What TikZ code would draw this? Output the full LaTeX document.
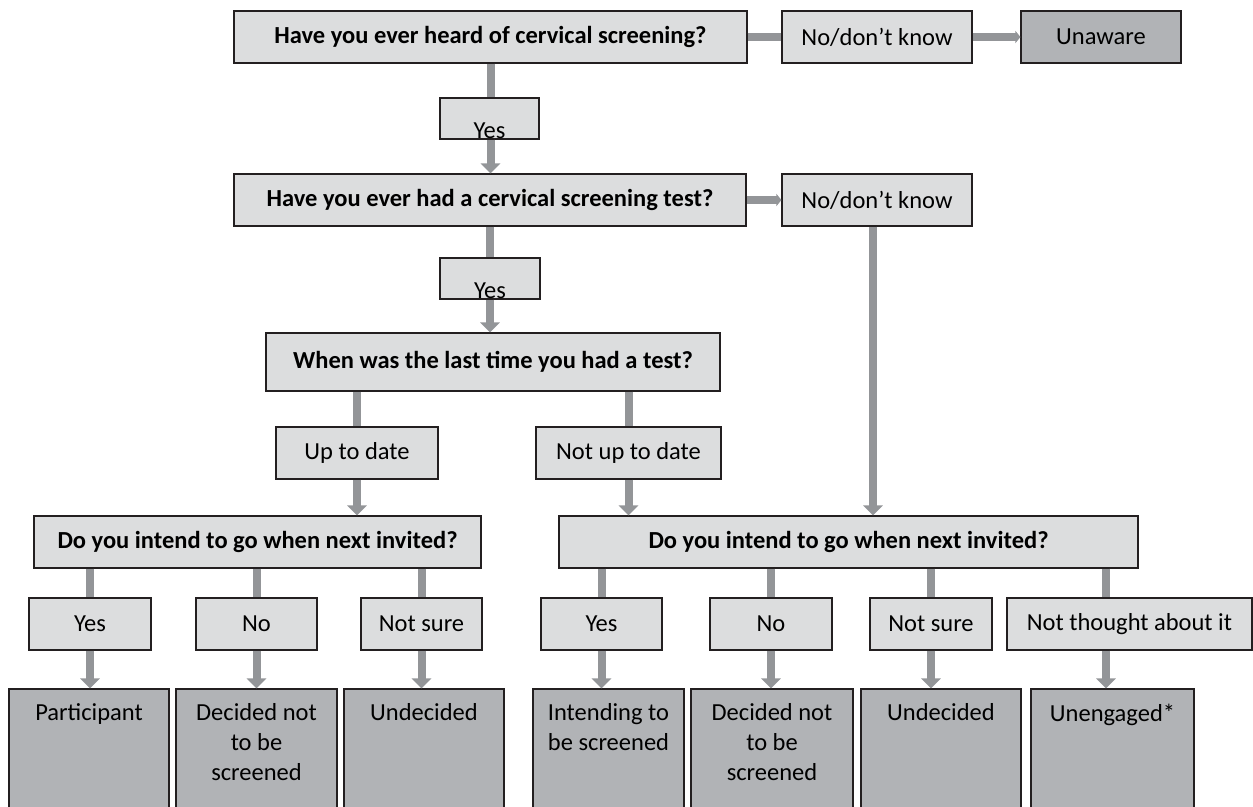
\documentclass[tikz,border=0pt]{standalone}
\usepackage{fontspec}
\setmainfont{Carlito}
\usetikzlibrary{arrows.meta,calc}
\definecolor{boxlight}{HTML}{DCDDDE}
\definecolor{boxdark}{HTML}{B1B3B6}
\definecolor{edgecol}{HTML}{231F20}
\definecolor{conngray}{HTML}{939598}
\tikzset{
  qbox/.style={draw=edgecol, line width=1.1pt, fill=boxlight, inner sep=0pt, font=\fontsize{24.5}{28}\selectfont\bfseries},
  abox/.style={draw=edgecol, line width=1.1pt, fill=boxlight, inner sep=0pt, font=\fontsize{24.5}{30}\selectfont},
  dbox/.style={draw=edgecol, line width=1.1pt, fill=boxdark, inner sep=0pt, font=\fontsize{24.5}{30}\selectfont},
  obox/.style={draw=edgecol, line width=1.1pt, fill=boxdark, inner sep=0pt},
  otext/.style={font=\fontsize{24.5}{30}\selectfont, align=center, inner sep=0pt, anchor=north},
  ytext/.style={font=\fontsize{24.5}{30}\selectfont, inner sep=0pt, anchor=base},
  conn/.style={draw=conngray, line width=8pt},
  varrow/.style={conn, -{Triangle[width=19pt,length=10pt]}},
  harrow/.style={conn, -{Triangle[width=12pt,length=5pt]}},
}
\begin{document}
\begin{tikzpicture}[x=1pt,y=-1pt]
\useasboundingbox (0,0) rectangle (1253,806);
\clip (0,0) rectangle (1253,806);
% top row
\node[qbox, minimum width=513pt, minimum height=52pt] (q1) at (490.5,37) {Have you ever heard of cervical screening?};
\node[abox, minimum width=190pt, minimum height=52pt] (nd1) at (877,37) {No/don’t know};
\node[dbox, minimum width=160pt, minimum height=52pt] (un) at (1101,37) {Unaware};
\node[abox, minimum width=99pt, minimum height=41pt] (y1) at (489.5,118.5) {};
\node[ytext] (y1t) at ([yshift=1pt]y1.south) {Yes};
% second question
\node[qbox, minimum width=512pt, minimum height=52pt] (q2) at (490,200) {Have you ever had a cervical screening test?};
\node[abox, minimum width=190pt, minimum height=52pt] (nd2) at (877,200) {No/don’t know};
\node[abox, minimum width=100pt, minimum height=41pt] (y2) at (490,278.5) {};
\node[ytext] (y2t) at ([yshift=1pt]y2.south) {Yes};
% third question
\node[qbox, minimum width=454pt, minimum height=58pt] (q3) at (493,362) {When was the last time you had a test?};
\node[abox, minimum width=162pt, minimum height=52pt] (ud) at (357,453) {Up to date};
\node[abox, minimum width=185pt, minimum height=52pt] (nud) at (628.5,453) {Not up to date};
% intention questions
\node[qbox, minimum width=447pt, minimum height=52pt] (q4) at (257.5,542) {Do you intend to go when next invited?};
\node[qbox, minimum width=579pt, minimum height=52pt] (q5) at (848.5,542) {Do you intend to go when next invited?};
% answers
\node[abox, minimum width=122pt, minimum height=52pt] (a1) at (90,624) {Yes};
\node[abox, minimum width=121pt, minimum height=52pt] (a2) at (256.5,624) {No};
\node[abox, minimum width=121pt, minimum height=52pt] (a3) at (421.5,624) {Not sure};
\node[abox, minimum width=121pt, minimum height=52pt] (a4) at (601.5,624) {Yes};
\node[abox, minimum width=122pt, minimum height=52pt] (a5) at (771,624) {No};
\node[abox, minimum width=122pt, minimum height=52pt] (a6) at (931,624) {Not sure};
\node[abox, minimum width=245pt, minimum height=52pt] (a7) at (1129.5,624) {Not thought about it};
\coordinate (c7) at (1106,624);
% outcomes
\node[obox, minimum width=160pt, minimum height=123pt] (o1) at (89,750.5) {};
\node[obox, minimum width=161pt, minimum height=123pt] (o2) at (256.5,750.5) {};
\node[obox, minimum width=160pt, minimum height=123pt] (o3) at (424,750.5) {};
\node[obox, minimum width=151pt, minimum height=123pt] (o4) at (608.5,750.5) {};
\node[obox, minimum width=162pt, minimum height=123pt] (o5) at (772,750.5) {};
\node[obox, minimum width=160pt, minimum height=123pt] (o6) at (941,750.5) {};
\node[obox, minimum width=163pt, minimum height=123pt] (o7) at (1112.5,750.5) {};
\node[otext] (o1t) at ([yshift=-15pt]o1.north) {Participant};
\node[otext] (o2t) at ([yshift=-15pt]o2.north) {Decided not\\to be\\screened};
\node[otext] (o3t) at ([yshift=-15pt]o3.north) {Undecided};
\node[otext] (o4t) at ([yshift=-15pt]o4.north) {Intending to\\be screened};
\node[otext] (o5t) at ([yshift=-15pt]o5.north) {Decided not\\to be\\screened};
\node[otext] (o6t) at ([yshift=-15pt]o6.north) {Undecided};
\node[otext] (o7t) at ([yshift=-15pt]o7.north) {Unengaged*};
% connectors
\draw[conn] (q1.east) -- (nd1.west);
\draw[harrow] (nd1.east) -- (un.west);
\draw[conn] (q1.south) -- (q1.south |- y1.north);
\draw[varrow] (q1.south |- y1.south) -- (q1.south |- q2.north);
\draw[harrow] (q2.east) -- (nd2.west);
\draw[conn] (q2.south) -- (q2.south |- y2.north);
\draw[varrow] (q2.south |- y2.south) -- (q2.south |- q3.north);
\draw[varrow] ([xshift=-4pt]nd2.south) -- ([xshift=-4pt]nd2.south |- q5.north);
\draw[conn] (ud.north |- q3.south) -- (ud.north);
\draw[varrow] (ud.south) -- (ud.south |- q4.north);
\draw[conn] (nud.north |- q3.south) -- (nud.north);
\draw[varrow] (nud.south) -- (nud.south |- q5.north);
\foreach \a/\o in {a1/o1,a2/o2,a3/o3} {
  \draw[conn] (\a.north |- q4.south) -- (\a.north);
  \draw[varrow] (\a.south) -- (\a.south |- \o.north);
}
\foreach \a/\o in {a4/o4,a5/o5,a6/o6} {
  \draw[conn] (\a.north |- q5.south) -- (\a.north);
  \draw[varrow] (\a.south) -- (\a.south |- \o.north);
}
\draw[conn] (c7 |- q5.south) -- (c7 |- a7.north);
\draw[varrow] (c7 |- a7.south) -- (c7 |- o7.north);
\end{tikzpicture}
\end{document}
